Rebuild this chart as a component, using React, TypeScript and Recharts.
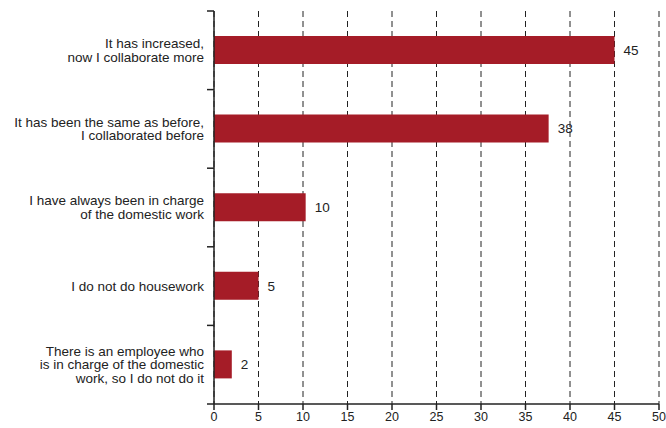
import React from "react";
import { BarChart, Bar, XAxis, YAxis, CartesianGrid, LabelList } from "recharts";

const categories = [
  "It has increased,\nnow I collaborate more",
  "It has been the same as before,\nI collaborated before",
  "I have always been in charge\nof the domestic work",
  "I do not do housework",
  "There is an employee who\nis in charge of the domestic\nwork, so I do not do it",
];
const values = [45, 37.6, 10.3, 5, 2];
const valueLabels = ["45", "38", "10", "5", "2"];
const xTicks = [0, 5, 10, 15, 20, 25, 30, 35, 40, 45, 50];

const data = categories.map((c, i) => ({ name: c, value: values[i], label: valueLabels[i] }));

const W = 666;
const H = 428;
const M_TOP = 11;
const X_AXIS_H = 24;
const PLOT_H = H - M_TOP - X_AXIS_H;
const BAND = PLOT_H / categories.length;
const FONT = "'Liberation Sans', Arial, Helvetica, sans-serif";
const LINE_H = 13.5;

const YTick = (props: any) => {
  const { x, y, payload, index } = props;
  const lines = String(payload.value).split("\n");
  const n = lines.length;
  return (
    <g>
      <line x1={x - 7} x2={x} y1={y - BAND / 2} y2={y - BAND / 2} stroke="#222" strokeWidth={1.5} />
      {index === categories.length - 1 && (
        <line x1={x - 7} x2={x} y1={y + BAND / 2} y2={y + BAND / 2} stroke="#222" strokeWidth={1.5} />
      )}
      <text x={x - 10} y={y} textAnchor="end" fontSize={13.5} fontFamily={FONT} fill="#222">
        {lines.map((l, i) => (
          <tspan key={i} x={x - 10} dy={i === 0 ? -((n - 1) / 2) * LINE_H + 4.5 : LINE_H}>
            {l}
          </tspan>
        ))}
      </text>
    </g>
  );
};

export default function App() {
  return (
    <div style={{ position: "absolute", left: 0, top: 0, background: "#fff" }}>
      <BarChart
        width={W}
        height={H}
        data={data}
        layout="vertical"
        margin={{ top: M_TOP, right: 7, bottom: 0, left: 0 }}
      >
        <CartesianGrid horizontal={false} stroke="#222" strokeDasharray="6 4" />
        <XAxis
          type="number"
          domain={[0, 50]}
          ticks={xTicks}
          height={X_AXIS_H}
          tickSize={6}
          tickMargin={2}
          axisLine={{ stroke: "#222", strokeWidth: 1.5 }}
          tickLine={{ stroke: "#222", strokeWidth: 1.5 }}
          tick={{ fontSize: 12.5, fontFamily: FONT, fill: "#222" }}
        />
        <YAxis
          type="category"
          dataKey="name"
          width={214}
          tickLine={false}
          tickSize={0}
          tickMargin={0}
          axisLine={{ stroke: "#222", strokeWidth: 1.5 }}
          tick={<YTick />}
          interval={0}
        />
        <Bar dataKey="value" fill="#a51c27" barSize={28} isAnimationActive={false}>
          <LabelList
            dataKey="label"
            position="right"
            offset={9}
            style={{ fontSize: 13.5, fontFamily: FONT, fill: "#222" }}
          />
        </Bar>
      </BarChart>
    </div>
  );
}
